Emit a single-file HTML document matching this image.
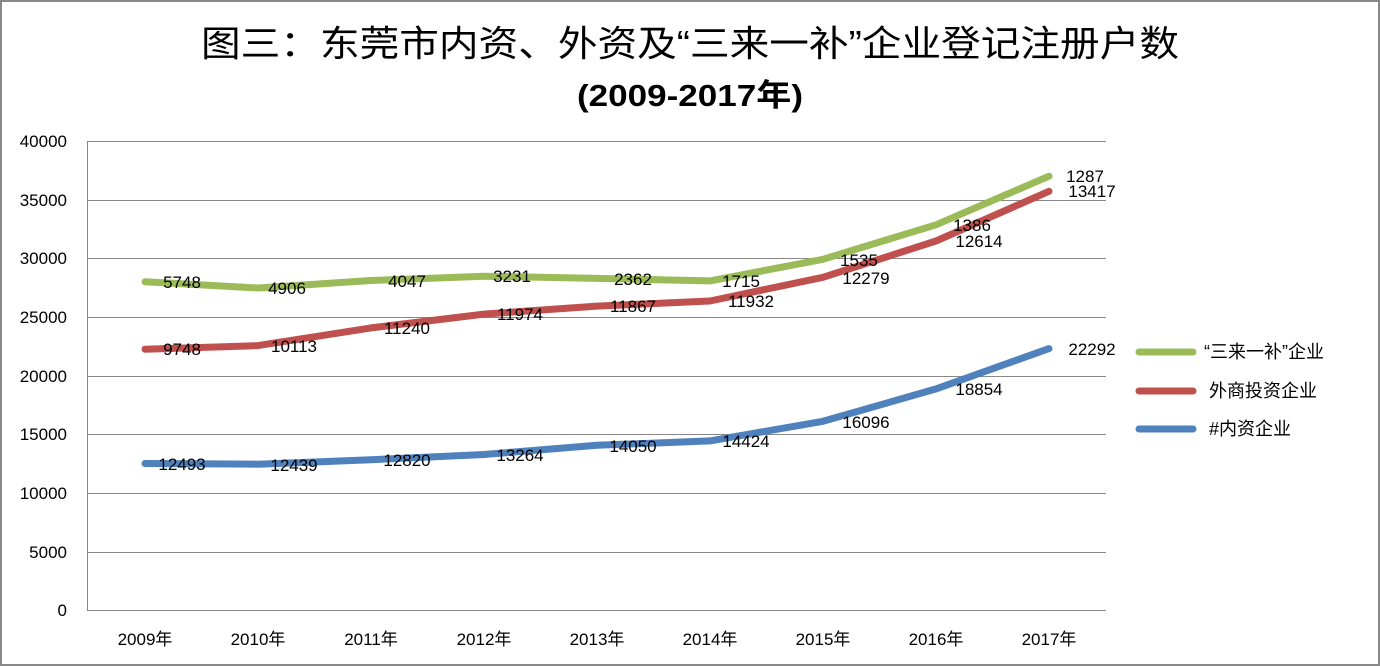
<!DOCTYPE html>
<html><head><meta charset="utf-8"><style>
html,body{margin:0;padding:0;background:#fff}
svg{display:block}
text{font-family:"Liberation Sans","Noto Sans CJK SC",sans-serif;fill:#000}
</style></head><body>
<svg width="1380" height="666" viewBox="0 0 1380 666" xmlns="http://www.w3.org/2000/svg">
<rect x="1" y="1" width="1378" height="664" fill="#fff" stroke="#888" stroke-width="2"/>
<text x="690" y="56" font-size="36" text-anchor="middle" textLength="978" lengthAdjust="spacingAndGlyphs">图三：东莞市内资、外资及“三来一补”企业登记注册户数</text>
<text x="690" y="106" font-size="31" font-weight="bold" text-anchor="middle" textLength="226" lengthAdjust="spacingAndGlyphs">(2009-2017年)</text>
<g stroke="#888" stroke-width="1">
<line x1="87" y1="141.5" x2="1106" y2="141.5"/>
<line x1="87" y1="200.5" x2="1106" y2="200.5"/>
<line x1="87" y1="258.5" x2="1106" y2="258.5"/>
<line x1="87" y1="317.5" x2="1106" y2="317.5"/>
<line x1="87" y1="376.5" x2="1106" y2="376.5"/>
<line x1="87" y1="434.5" x2="1106" y2="434.5"/>
<line x1="87" y1="493.5" x2="1106" y2="493.5"/>
<line x1="87" y1="552.5" x2="1106" y2="552.5"/>
<line x1="87" y1="610.5" x2="1106" y2="610.5"/>
<line x1="87.5" y1="141" x2="87.5" y2="611"/>
</g>
<g font-size="17" text-anchor="end">
<text x="67" y="147">40000</text><text x="67" y="206">35000</text><text x="67" y="264">30000</text>
<text x="67" y="323">25000</text><text x="67" y="382">20000</text><text x="67" y="440">15000</text>
<text x="67" y="499">10000</text><text x="67" y="558">5000</text><text x="67" y="616">0</text>
</g>
<g font-size="17" text-anchor="middle">
<text x="145" y="645">2009年</text><text x="258" y="645">2010年</text><text x="371" y="645">2011年</text>
<text x="484" y="645">2012年</text><text x="597" y="645">2013年</text><text x="710" y="645">2014年</text>
<text x="823" y="645">2015年</text><text x="936" y="645">2016年</text><text x="1049" y="645">2017年</text>
</g>
<g fill="none" stroke-width="7" stroke-linecap="round" stroke-linejoin="round">
<polyline stroke="#4f81bd" points="145,463.5 258,464.2 371,459.7 484,454.5 597,445.3 710,440.9 823,421.3 936,388.9 1049,348.6"/>
<polyline stroke="#c0504d" points="145,349.2 258,345.6 371,327.9 484,314.1 597,306.1 710,301 823,277.3 936,241 1049,191.3"/>
<polyline stroke="#9bbb59" points="145,281.8 258,288 371,280.5 484,276.2 597,278.4 710,280.9 823,259.3 936,224.8 1049,176.2"/>
</g>
<g font-size="17" text-anchor="middle">
<text x="182" y="470">12493</text><text x="294" y="471">12439</text><text x="407" y="466">12820</text>
<text x="520" y="461">13264</text><text x="633" y="452">14050</text><text x="746" y="447">14424</text>
<text x="866" y="428">16096</text><text x="979" y="395">18854</text><text x="1092" y="355">22292</text>
<text x="182" y="355">9748</text><text x="294" y="352">10113</text><text x="407" y="334">11240</text>
<text x="520" y="320">11974</text><text x="633" y="312">11867</text><text x="751" y="307">11932</text>
<text x="866" y="284">12279</text><text x="979" y="247">12614</text><text x="1092" y="197">13417</text>
<text x="182" y="288">5748</text><text x="287" y="294">4906</text><text x="407" y="287">4047</text>
<text x="512" y="282">3231</text><text x="633" y="285">2362</text><text x="741" y="287">1715</text>
<text x="859" y="266">1535</text><text x="972" y="231">1386</text><text x="1085" y="182">1287</text>
</g>
<g stroke-width="7" stroke-linecap="round">
<line x1="1139" y1="352" x2="1193" y2="352" stroke="#9bbb59"/>
<line x1="1139" y1="391" x2="1193" y2="391" stroke="#c0504d"/>
<line x1="1139" y1="429" x2="1193" y2="429" stroke="#4f81bd"/>
</g>
<g font-size="18">
<text x="1204" y="358">“三来一补”企业</text>
<text x="1209" y="397">外商投资企业</text>
<text x="1209" y="435">#内资企业</text>
</g>
</svg>
</body></html>
